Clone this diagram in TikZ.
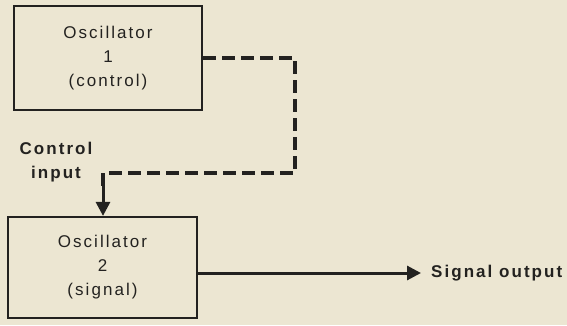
\documentclass[tikz,border=0pt]{standalone}
\usepackage{fontspec}
\setmainfont{Liberation Sans}
\newfontfamily\oscfont[LetterSpace=12]{Liberation Sans}
\usetikzlibrary{arrows.meta}

\definecolor{paper}{HTML}{ECE6D2}
\definecolor{ink}{HTML}{232220}

\begin{document}
\begin{tikzpicture}[
    x=1pt, y=-1pt,
    oscbox/.style={draw=ink, line width=2.2pt, align=center, text=ink,
        font=\oscfont\fontsize{17}{24}\selectfont, inner sep=0pt},
    lbl/.style={text=ink, align=center, inner sep=0pt,
        font=\oscfont\bfseries\fontsize{17}{24}\selectfont},
    ctrlline/.style={draw=ink, line width=4pt, dash pattern=on 13pt off 6pt},
    arr/.style={draw=ink, line width=3pt,
        -{Triangle[length=14pt, width=14pt]}},
]

% Paper background
\fill[paper] (0,0) rectangle (567,325);
\useasboundingbox (0,0) rectangle (567,325);

% Oscillators
\node[oscbox, minimum width=188pt, minimum height=104pt]
    (osc1) at (108,58) {Oscillator\\1\\(control)};
\node[oscbox, minimum width=189pt, minimum height=101pt]
    (osc2) at (102.5,267.5) {Oscillator\\2\\(signal)};

% Labels
\node[lbl] (ctrlin) at (56,162) {Control\\input};
\node[lbl, anchor=west] (sigout) at (431,273) {Signal output};

% Control path (dashed)
\coordinate (turnA) at (295,173);
\coordinate (turnB) at (103,186);
\draw[ctrlline] (osc1.east) -| (turnA) -| (turnB);
\draw[arr] (turnB) -- (osc2.north -| turnB);

% Signal output
\draw[arr] (osc2.east |- sigout.west) -- ([xshift=-10pt]sigout.west);

\end{tikzpicture}
\end{document}
